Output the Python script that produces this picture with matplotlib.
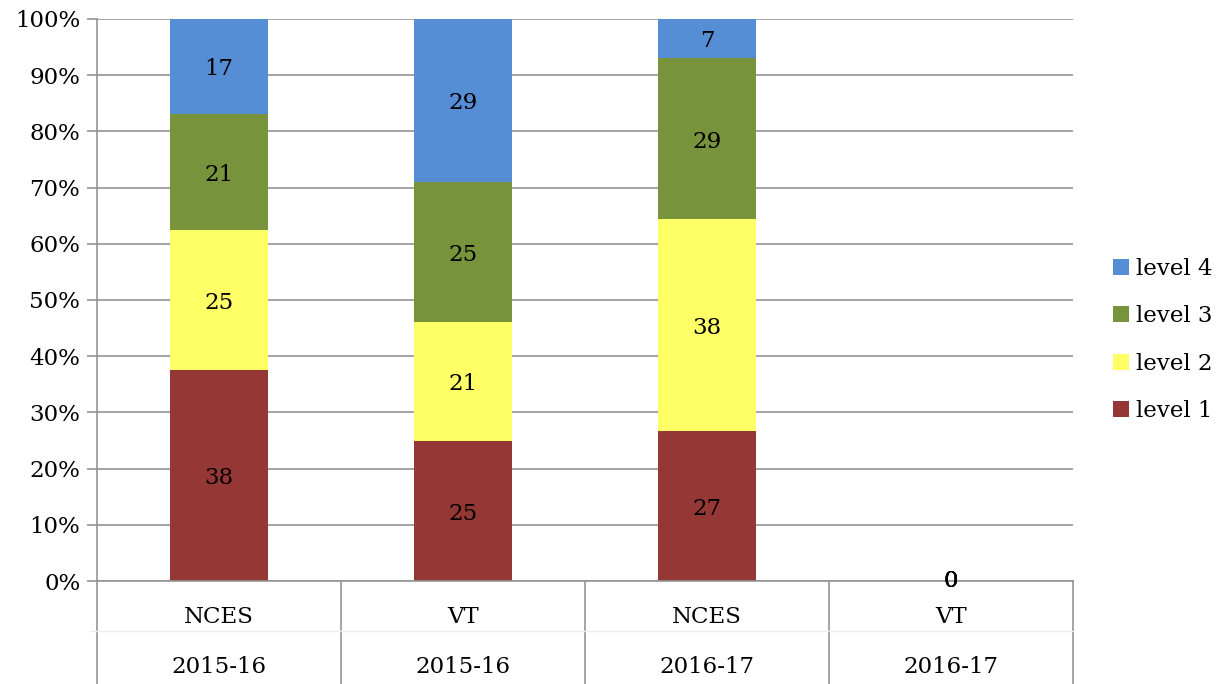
import matplotlib
matplotlib.use("Agg")
import matplotlib.pyplot as plt
import matplotlib.transforms as mtransforms
import numpy as np

sources = ["NCES", "VT", "NCES", "VT"]
years = ["2015-16", "2015-16", "2016-17", "2016-17"]
series_names = ["level 1", "level 2", "level 3", "level 4"]
level1 = [38, 25, 27, 0]
level2 = [25, 21, 38, 0]
level3 = [21, 25, 29, 0]
level4 = [17, 29, 7, 0]
colors = ["#953735", "#FFFF66", "#77933C", "#558ED5"]
yticklabels = ["0%", "10%", "20%", "30%", "40%", "50%", "60%", "70%", "80%", "90%", "100%"]

plt.rcParams['font.family'] = ['DejaVu Serif']
FS = 16.5

fig = plt.figure(figsize=(12.25, 6.84), dpi=100)
ax = fig.add_axes([97/1225, 103/684, (1073-97)/1225, (581-19)/684])

data = np.array([level1, level2, level3, level4], dtype=float)
totals = data.sum(axis=0)
pct = np.where(totals > 0, data / np.where(totals == 0, 1, totals) * 100, 0)

label_trans = ax.transData + mtransforms.ScaledTranslation(0, -3/100, fig.dpi_scale_trans)

x = np.arange(len(sources))
bottom = np.zeros(len(sources))
handles = []
for i, name in enumerate(series_names):
    b = ax.bar(x, pct[i], 0.4, bottom=bottom, color=colors[i], label=name, zorder=3)
    handles.append(b)
    for j in range(len(x)):
        ax.text(x[j], bottom[j] + pct[i][j] / 2, str(int(data[i][j])),
                ha="center", va="center", fontsize=FS, color="black", zorder=6,
                transform=label_trans if totals[j] > 0 else ax.transData)
    bottom += pct[i]

ax.set_xlim(-0.5, 3.5)
ax.set_ylim(0, 100)
ax.set_yticks(np.arange(0, 101, 10))
ax.set_yticklabels(yticklabels, fontsize=FS)
ax.yaxis.grid(True, color="#959595", linewidth=1.2, zorder=0)
ax.tick_params(axis="y", length=7, color="#959595", width=1.2, pad=5)
ax.set_xticks([])
for s in ["top", "right", "bottom"]:
    ax.spines[s].set_visible(False)
ax.spines["left"].set_color("#959595")
ax.spines["left"].set_linewidth(1.2)

# multi-level category axis
trans = mtransforms.blended_transform_factory(ax.transData, ax.transAxes)
ybot = -103/562
for xb in np.arange(-0.5, 4.0, 1.0):
    ax.plot([xb, xb], [0, ybot], transform=trans, color="#959595", lw=1.2, clip_on=False)
ax.plot([-0.5, 3.5], [0, 0], transform=trans, color="#959595", lw=1.2, clip_on=False, zorder=5)
ax.plot([-0.53, 3.5], [-50/562, -50/562], transform=trans, color="#ebebeb", lw=1.0, clip_on=False)
for j in range(len(x)):
    ax.text(x[j], -36/562, sources[j], transform=trans, ha="center", va="center", fontsize=FS)
    ax.text(x[j], -86/562, years[j], transform=trans, ha="center", va="center", fontsize=FS)

leg = fig.legend(handles[::-1], series_names[::-1], loc="center left",
                 bbox_to_anchor=(1092/1225, 344/684), frameon=False, fontsize=FS,
                 handlelength=0.7, handleheight=0.7, handletextpad=0.3, labelspacing=1.1)

fig.savefig("out.png", dpi=100)
